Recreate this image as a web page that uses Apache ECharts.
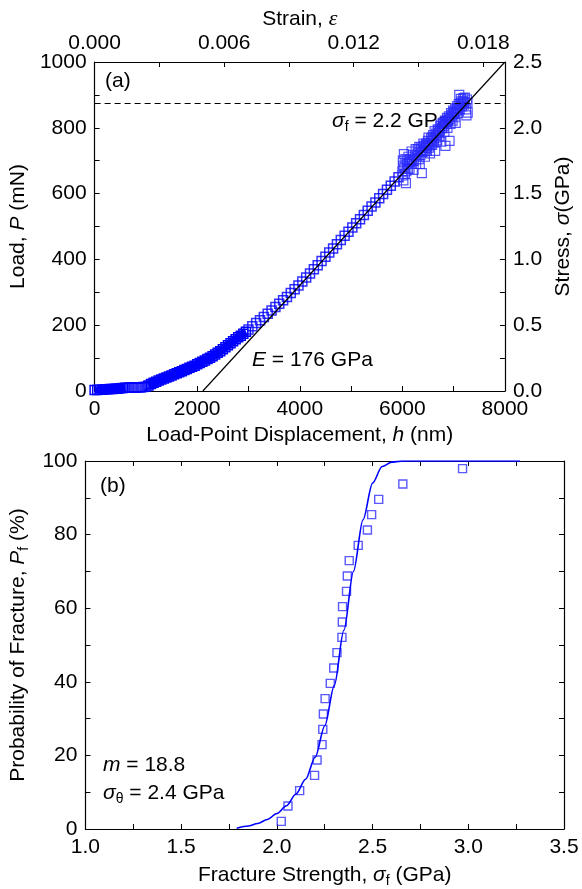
<!DOCTYPE html>
<html>
<head>
<meta charset="utf-8">
<script src="https://cdn.jsdelivr.net/npm/echarts@6/dist/echarts.min.js"></script>
<style>
  html, body { margin: 0; padding: 0; background: #fff; }
  #chart { width: 582px; height: 889px; }
</style>
</head>
<body>
<div id="chart"></div>
<script>
// ---------- Panel (a): load vs displacement ----------
const dispStart = [0, 50, 100, 150, 200, 250, 300, 350, 400, 450, 500, 550, 600];
const loadStart = [3, 3, 4, 4, 5, 5, 6, 6, 7, 7, 8, 9, 10];

const dispFlat = [650, 700, 750, 800, 850, 900, 950, 1000];
const loadFlat = [11, 11, 11, 11, 11, 11, 12, 13];

const dispRise = [1050, 1100, 1150, 1200, 1250, 1300, 1350, 1400, 1450, 1500, 1550, 1600, 1650, 1700, 1750, 1800,
  1850, 1900, 1950, 2000, 2050, 2100, 2150, 2200, 2250, 2300, 2350, 2400, 2450, 2500, 2550, 2600, 2650, 2700,
  2750, 2800, 2850, 2900, 2950];
const loadRise = [17, 21, 25, 28, 32, 35, 38, 41, 44, 47, 51, 54, 57, 60, 64, 67,
  71, 74, 77, 81, 85, 89, 93, 97, 101, 106, 111, 116, 121, 127, 133, 139, 145, 151,
  157, 163, 168, 174, 180];

const dispLinear = [3000, 3075, 3150, 3225, 3300, 3375, 3450, 3525, 3600, 3675, 3750, 3825, 3900, 3975, 4050,
  4125, 4200, 4275, 4350, 4425, 4500, 4575, 4650, 4725, 4800, 4875, 4950, 5025, 5100, 5175, 5250, 5325, 5400,
  5475, 5550, 5625, 5700, 5775, 5850, 5925];
const loadLinear = [187, 197, 207, 215, 225, 235, 245, 255, 265, 276, 286, 298, 309, 321, 333,
  345, 357, 370, 382, 395, 408, 421, 433, 446, 459, 472, 484, 497, 510, 522, 535, 548, 561,
  573, 586, 599, 612, 624, 637, 650];

const dispNoisy = [6000, 6010, 6020, 6030, 6040, 6060, 6070, 6080, 6100, 6120, 6140, 6160, 6180, 6200, 6220,
  6250, 6270, 6300, 6320, 6340, 6360, 6380, 6400, 6420, 6440, 6460, 6480, 6500, 6520, 6540, 6560, 6580, 6600,
  6620, 6640, 6660, 6680, 6700, 6720, 6740, 6760, 6780, 6800, 6820, 6840, 6860, 6880, 6900, 6920, 6940, 6960,
  6980, 7000, 7020, 7040, 7060, 7080, 7100, 7110, 7120, 7140, 7160, 7180, 7200, 7220, 7240, 7250, 7260, 7270, 7275,
  6005, 6015, 6050, 6090, 6110, 6130, 6150, 6190, 6210, 6230, 6260, 6290, 6310, 6330, 6350, 6370, 6390, 6410,
  6430, 6450, 6470, 6490, 6510, 6530, 6550, 6570, 6590, 6610, 6630, 6650, 6670, 6690, 6710, 6730, 6750, 6770,
  6790, 6810, 6830, 6850, 6870, 6890, 6910, 6930, 6950, 6970, 6990, 7010, 7030, 7050, 7070, 7090, 7130, 7150,
  7170, 7190, 7210];
const loadNoisy = [668, 700, 640, 720, 680, 705, 632, 668, 690, 712, 676, 695, 728, 702, 672,
  715, 690, 735, 705, 690, 740, 662, 730, 745, 712, 748, 730, 760, 740, 722, 768, 748, 778,
  755, 730, 782, 762, 792, 775, 805, 758, 798, 812, 788, 745, 818, 800, 828, 760, 812, 840,
  822, 848, 832, 815, 860, 845, 872, 900, 855, 888, 865, 882, 870, 892, 856, 838, 886, 876, 846,
  655, 685, 660, 700, 675, 695, 705, 690, 718, 700, 735, 712, 725, 742, 718, 732, 726, 752,
  728, 738, 752, 745, 770, 755, 748, 760, 772, 765, 790, 770, 778, 795, 785, 790, 810, 800,
  815, 805, 822, 812, 830, 822, 835, 826, 845, 835, 852, 842, 858, 850, 866, 858, 872, 880,
  875, 890, 878];

// Elastic fit line (E = 176 GPa) and fracture load
const modulusLineDisp = [2110, 8000];
const modulusLineLoad = [0, 1000];
const fractureLoad = 875;

// ---------- Panel (b): Weibull plot ----------
const strengthVals = [2.023, 2.058, 2.119, 2.197, 2.210, 2.236, 2.240, 2.243, 2.252, 2.279, 2.297, 2.314,
  2.340, 2.342, 2.343, 2.364, 2.368, 2.378, 2.425, 2.473, 2.495, 2.532, 2.658, 2.970];
const probVals = [2.08, 6.25, 10.42, 14.58, 18.75, 22.92, 27.08, 31.25, 35.42, 39.58, 43.75, 47.92,
  52.08, 56.25, 60.42, 64.58, 68.75, 72.92, 77.08, 81.25, 85.42, 89.58, 93.75, 97.92];

const fitStrength = [1.79, 1.85, 1.90, 1.95, 2.00, 2.05, 2.10, 2.15, 2.20, 2.25, 2.30, 2.35, 2.40, 2.45,
  2.50, 2.55, 2.60, 2.65, 2.70, 3.27];
const fitProb = [0.2, 0.8, 1.5, 2.6, 4.2, 6.3, 9.5, 13.5, 19.5, 28, 39, 54, 70, 84,
  94, 98.5, 99.7, 99.97, 100, 100];

// ---------- helpers ----------
const FONT = '"Liberation Sans", Arial, sans-serif';
const FS = 21;
const BLUE = '#0000ff';
const zip = (a, b) => a.map((v, i) => [v, b[i]]);
const onStep = (v, s) => Math.abs(v / s - Math.round(v / s)) < 1e-6;

const rich = {
  n: { fontFamily: FONT, fontSize: FS, color: '#000', lineHeight: 26 },
  i: { fontFamily: FONT, fontSize: FS, fontStyle: 'italic', color: '#000', lineHeight: 26 },
  e: { fontFamily: '"Liberation Serif", serif', fontSize: FS + 1, fontStyle: 'italic', color: '#000', lineHeight: 26 },
  s: { fontFamily: FONT, fontSize: 14, color: '#000', lineHeight: 14, verticalAlign: 'bottom' }
};

const axisCommon = {
  type: 'value',
  splitLine: { show: false },
  axisLine: { show: true, onZero: false, lineStyle: { color: '#000', width: 1.2 } },
  axisTick: { show: true, inside: true, length: 5, lineStyle: { color: '#000', width: 1 } },
  axisLabel: { fontFamily: FONT, fontSize: FS, color: '#000', margin: 8 },
  nameLocation: 'middle',
  nameTextStyle: { rich: rich }
};
function ax(extra) {
  const o = Object.assign({}, axisCommon, extra);
  o.axisLabel = Object.assign({}, axisCommon.axisLabel, extra.axisLabel || {});
  return o;
}

const markerStyle = { color: 'rgba(0,0,0,0)', borderColor: BLUE, borderWidth: 1.5 };

const option = {
  animation: false,
  backgroundColor: '#fff',
  grid: [
    { left: 89, top: 62, width: 432, height: 329 },
    { left: 82, top: 461, width: 482, height: 368 }
  ],
  xAxis: [
    ax({ gridIndex: 0, position: 'bottom', min: 0, max: 8000, interval: 1000,
      axisLabel: { formatter: v => (v % 2000 === 0 ? String(v) : '') },
      name: '{n|Load-Point Displacement, }{i|h}{n| (nm)}', nameGap: 31 }),
    ax({ gridIndex: 0, position: 'top', min: 0, max: 0.019, interval: 0.003,
      axisLabel: { formatter: v => (onStep(v, 0.006) ? v.toFixed(3) : '') },
      name: '{n|Strain, }{e|ε}', nameGap: 30 }),
    ax({ gridIndex: 1, position: 'bottom', min: 1, max: 3.5, interval: 0.25,
      axisLabel: { formatter: v => (onStep(v, 0.5) ? v.toFixed(1) : '') },
      name: '{n|Fracture Strength, }{i|σ}{s|f}{n| (GPa)}', nameGap: 33 }),
    ax({ gridIndex: 1, position: 'top', min: 1, max: 3.5, interval: 0.25,
      axisLabel: { show: false } })
  ],
  yAxis: [
    ax({ gridIndex: 0, position: 'left', min: 0, max: 1000, interval: 100,
      axisLabel: { formatter: v => (v % 200 === 0 ? String(v) : '') },
      name: '{n|Load, }{i|P}{n| (mN)}', nameGap: 59, nameRotate: 90 }),
    ax({ gridIndex: 0, position: 'right', min: 0, max: 2.5, interval: 0.25,
      axisLabel: { formatter: v => (onStep(v, 0.5) ? v.toFixed(1) : '') },
      name: '{n|Stress, }{i|σ}{n|(GPa)}', nameGap: 42, nameRotate: 90 }),
    ax({ gridIndex: 1, position: 'left', min: 0, max: 100, interval: 10,
      axisLabel: { formatter: v => (v % 20 === 0 ? String(v) : '') },
      name: '{n|Probability of Fracture, }{i|P}{s|f}{n| (%)}', nameGap: 52, nameRotate: 90 }),
    ax({ gridIndex: 1, position: 'right', min: 0, max: 100, interval: 10,
      axisLabel: { show: false } })
  ],
  series: [
    { type: 'line', xAxisIndex: 0, yAxisIndex: 0, data: zip(dispStart, loadStart),
      symbol: 'rect', symbolSize: 9, showAllSymbol: true, itemStyle: markerStyle,
      lineStyle: { color: BLUE, width: 7 }, z: 2 },
    { type: 'scatter', xAxisIndex: 0, yAxisIndex: 0, data: zip(dispFlat, loadFlat),
      symbol: 'rect', symbolSize: 9, itemStyle: markerStyle, z: 2 },
    { type: 'line', xAxisIndex: 0, yAxisIndex: 0, data: zip(dispRise, loadRise),
      symbol: 'rect', symbolSize: 9, showAllSymbol: true, itemStyle: markerStyle,
      lineStyle: { color: BLUE, width: 8 }, z: 2 },
    { type: 'scatter', xAxisIndex: 0, yAxisIndex: 0, data: zip(dispLinear, loadLinear),
      symbol: 'rect', symbolSize: 9, itemStyle: markerStyle, z: 2 },
    { type: 'scatter', xAxisIndex: 0, yAxisIndex: 0, data: zip(dispNoisy, loadNoisy),
      symbol: 'rect', symbolSize: 9, itemStyle: { color: 'rgba(0,0,0,0)', borderColor: '#2a2aff', borderWidth: 1.2 }, z: 2 },
    { type: 'line', xAxisIndex: 0, yAxisIndex: 0, data: zip(modulusLineDisp, modulusLineLoad),
      symbol: 'none', lineStyle: { color: '#000', width: 1.2 }, z: 5,
      markLine: { silent: true, symbol: 'none', label: { show: false },
        lineStyle: { color: '#000', width: 1.2, type: [6, 4] },
        data: [{ yAxis: fractureLoad }] } },
    { type: 'scatter', xAxisIndex: 2, yAxisIndex: 2, data: zip(strengthVals, probVals),
      symbol: 'rect', symbolSize: 8, itemStyle: { color: 'rgba(0,0,0,0)', borderColor: '#3030ff', borderWidth: 1.4 }, z: 3 },
    { type: 'line', xAxisIndex: 2, yAxisIndex: 2, data: zip(fitStrength, fitProb),
      symbol: 'none', smooth: 0.3, smoothMonotone: 'x', lineStyle: { color: '#0000ff', width: 1.6 }, z: 4 }
  ],
  graphic: [
    { type: 'text', x: 105, y: 81, style: { text: '(a)', fontFamily: FONT, fontSize: FS, fill: '#000', verticalAlign: 'middle' } },
    { type: 'text', x: 332, y: 121, style: { text: '{i|σ}{s|f}{n| = 2.2 GPa}', rich: rich, verticalAlign: 'middle' } },
    { type: 'text', x: 252, y: 360, style: { text: '{i|E}{n| = 176 GPa}', rich: rich, verticalAlign: 'middle' } },
    { type: 'text', x: 100, y: 486, style: { text: '(b)', fontFamily: FONT, fontSize: FS, fill: '#000', verticalAlign: 'middle' } },
    { type: 'text', x: 103, y: 765, style: { text: '{i|m}{n| = 18.8}', rich: rich, verticalAlign: 'middle' } },
    { type: 'text', x: 103, y: 793, style: { text: '{i|σ}{s|θ}{n| = 2.4 GPa}', rich: rich, verticalAlign: 'middle' } }
  ]
};

const chart = echarts.init(document.getElementById('chart'), null, { renderer: 'canvas' });
chart.setOption(option);
</script>
</body>
</html>
